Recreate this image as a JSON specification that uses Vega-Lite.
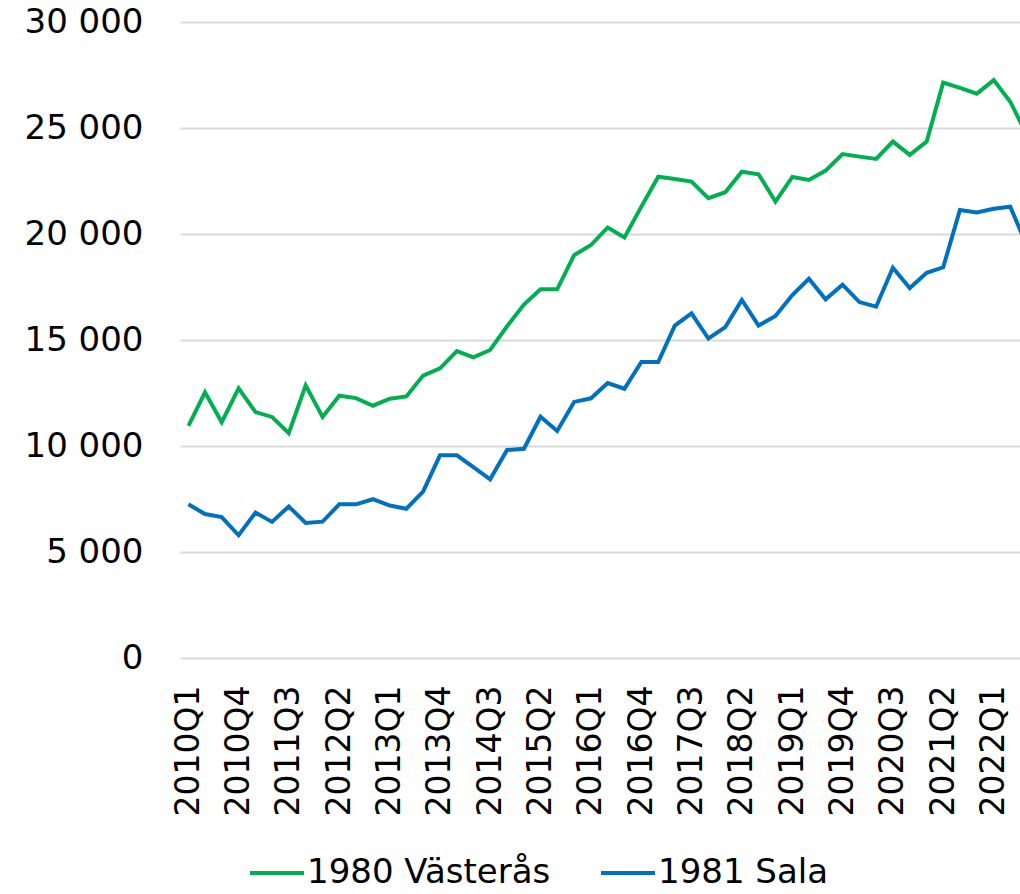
{
  "$schema": "https://vega.github.io/schema/vega-lite/v6.json",
  "width": 840,
  "height": 636,
  "autosize": "none",
  "padding": {"left": 180, "top": 22, "right": 0, "bottom": 236},
  "background": "white",
  "data": {
    "values": [
      {"q": "2010-01-01", "1980 Västerås": 10950, "1981 Sala": 7250},
      {"q": "2010-04-01", "1980 Västerås": 12530, "1981 Sala": 6790},
      {"q": "2010-07-01", "1980 Västerås": 11120, "1981 Sala": 6650},
      {"q": "2010-10-01", "1980 Västerås": 12720, "1981 Sala": 5790},
      {"q": "2011-01-01", "1980 Västerås": 11600, "1981 Sala": 6860},
      {"q": "2011-04-01", "1980 Västerås": 11370, "1981 Sala": 6420},
      {"q": "2011-07-01", "1980 Västerås": 10610, "1981 Sala": 7150},
      {"q": "2011-10-01", "1980 Västerås": 12860, "1981 Sala": 6370},
      {"q": "2012-01-01", "1980 Västerås": 11370, "1981 Sala": 6430},
      {"q": "2012-04-01", "1980 Västerås": 12370, "1981 Sala": 7250},
      {"q": "2012-07-01", "1980 Västerås": 12260, "1981 Sala": 7250},
      {"q": "2012-10-01", "1980 Västerås": 11900, "1981 Sala": 7490},
      {"q": "2013-01-01", "1980 Västerås": 12230, "1981 Sala": 7190},
      {"q": "2013-04-01", "1980 Västerås": 12340, "1981 Sala": 7040},
      {"q": "2013-07-01", "1980 Västerås": 13320, "1981 Sala": 7850},
      {"q": "2013-10-01", "1980 Västerås": 13660, "1981 Sala": 9560},
      {"q": "2014-01-01", "1980 Västerås": 14480, "1981 Sala": 9560},
      {"q": "2014-04-01", "1980 Västerås": 14180, "1981 Sala": 9000},
      {"q": "2014-07-01", "1980 Västerås": 14530, "1981 Sala": 8430},
      {"q": "2014-10-01", "1980 Västerås": 15650, "1981 Sala": 9810},
      {"q": "2015-01-01", "1980 Västerås": 16670, "1981 Sala": 9870},
      {"q": "2015-04-01", "1980 Västerås": 17390, "1981 Sala": 11380},
      {"q": "2015-07-01", "1980 Västerås": 17390, "1981 Sala": 10710},
      {"q": "2015-10-01", "1980 Västerås": 19000, "1981 Sala": 12080},
      {"q": "2016-01-01", "1980 Västerås": 19480, "1981 Sala": 12250},
      {"q": "2016-04-01", "1980 Västerås": 20310, "1981 Sala": 12970},
      {"q": "2016-07-01", "1980 Västerås": 19840, "1981 Sala": 12700},
      {"q": "2016-10-01", "1980 Västerås": 21290, "1981 Sala": 13960},
      {"q": "2017-01-01", "1980 Västerås": 22700, "1981 Sala": 13960},
      {"q": "2017-04-01", "1980 Västerås": 22590, "1981 Sala": 15680},
      {"q": "2017-07-01", "1980 Västerås": 22470, "1981 Sala": 16260},
      {"q": "2017-10-01", "1980 Västerås": 21690, "1981 Sala": 15070},
      {"q": "2018-01-01", "1980 Västerås": 21970, "1981 Sala": 15610},
      {"q": "2018-04-01", "1980 Västerås": 22940, "1981 Sala": 16890},
      {"q": "2018-07-01", "1980 Västerås": 22820, "1981 Sala": 15680},
      {"q": "2018-10-01", "1980 Västerås": 21530, "1981 Sala": 16130},
      {"q": "2019-01-01", "1980 Västerås": 22690, "1981 Sala": 17120},
      {"q": "2019-04-01", "1980 Västerås": 22550, "1981 Sala": 17890},
      {"q": "2019-07-01", "1980 Västerås": 22990, "1981 Sala": 16920},
      {"q": "2019-10-01", "1980 Västerås": 23770, "1981 Sala": 17610},
      {"q": "2020-01-01", "1980 Västerås": 23650, "1981 Sala": 16790},
      {"q": "2020-04-01", "1980 Västerås": 23540, "1981 Sala": 16570},
      {"q": "2020-07-01", "1980 Västerås": 24360, "1981 Sala": 18410},
      {"q": "2020-10-01", "1980 Västerås": 23730, "1981 Sala": 17450},
      {"q": "2021-01-01", "1980 Västerås": 24360, "1981 Sala": 18170},
      {"q": "2021-04-01", "1980 Västerås": 27140, "1981 Sala": 18430},
      {"q": "2021-07-01", "1980 Västerås": 26890, "1981 Sala": 21130},
      {"q": "2021-10-01", "1980 Västerås": 26620, "1981 Sala": 21020},
      {"q": "2022-01-01", "1980 Västerås": 27260, "1981 Sala": 21190},
      {"q": "2022-04-01", "1980 Västerås": 26240, "1981 Sala": 21290},
      {"q": "2022-07-01", "1980 Västerås": 24660, "1981 Sala": 19430}
    ]
  },
  "transform": [
    {"fold": ["1980 Västerås", "1981 Sala"], "as": ["series", "value"]}
  ],
  "mark": {"type": "line", "strokeWidth": 4, "clip": true},
  "encoding": {
    "x": {
      "field": "q",
      "type": "temporal",
      "scale": {
        "type": "utc",
        "domain": [
          {"year": 2009, "month": 11, "date": 16, "utc": true},
          {"year": 2022, "month": 5, "date": 24, "utc": true}
        ]
      },
      "axis": {
        "title": null,
        "values": [
          {"year": 2010, "month": 1, "date": 1, "utc": true},
          {"year": 2010, "month": 10, "date": 1, "utc": true},
          {"year": 2011, "month": 7, "date": 1, "utc": true},
          {"year": 2012, "month": 4, "date": 1, "utc": true},
          {"year": 2013, "month": 1, "date": 1, "utc": true},
          {"year": 2013, "month": 10, "date": 1, "utc": true},
          {"year": 2014, "month": 7, "date": 1, "utc": true},
          {"year": 2015, "month": 4, "date": 1, "utc": true},
          {"year": 2016, "month": 1, "date": 1, "utc": true},
          {"year": 2016, "month": 10, "date": 1, "utc": true},
          {"year": 2017, "month": 7, "date": 1, "utc": true},
          {"year": 2018, "month": 4, "date": 1, "utc": true},
          {"year": 2019, "month": 1, "date": 1, "utc": true},
          {"year": 2019, "month": 10, "date": 1, "utc": true},
          {"year": 2020, "month": 7, "date": 1, "utc": true},
          {"year": 2021, "month": 4, "date": 1, "utc": true},
          {"year": 2022, "month": 1, "date": 1, "utc": true}
        ],
        "labelExpr": "utcFormat(datum.value, '%Y') + 'Q' + (floor(utcmonth(datum.value) / 3) + 1)",
        "labelAngle": -90,
        "labelAlign": "right",
        "labelBaseline": "middle",
        "labelPadding": 27,
        "labelFont": "DejaVu Sans",
        "labelFontSize": 33,
        "labelColor": "#000000",
        "labelOverlap": false,
        "labelFlush": false,
        "domain": false,
        "ticks": false,
        "grid": false
      }
    },
    "y": {
      "field": "value",
      "type": "quantitative",
      "scale": {"domain": [0, 30000], "nice": false, "zero": true},
      "axis": {
        "title": null,
        "values": [0, 5000, 10000, 15000, 20000, 25000, 30000],
        "labelExpr": "replace(format(datum.value, ','), ',', ' ')",
        "labelFont": "DejaVu Sans",
        "labelFontSize": 34,
        "labelColor": "#000000",
        "labelPadding": 37,
        "labelBaseline": "middle",
        "domain": false,
        "ticks": false,
        "grid": true,
        "gridColor": "#D9D9D9",
        "gridWidth": 2
      }
    },
    "color": {
      "field": "series",
      "type": "nominal",
      "scale": {
        "domain": ["1980 Västerås", "1981 Sala"],
        "range": ["#00B050", "#0070C0"]
      },
      "legend": {
        "title": null,
        "orient": "none",
        "legendX": 68,
        "legendY": 822,
        "direction": "horizontal",
        "symbolType": "stroke",
        "symbolSize": 2916,
        "symbolStrokeWidth": 4,
        "labelFont": "DejaVu Sans",
        "labelFontSize": 34,
        "labelColor": "#000000",
        "labelOffset": 1,
        "columnPadding": 42,
        "labelLimit": 400,
        "padding": 0
      }
    }
  },
  "config": {
    "view": {"stroke": null}
  }
}
